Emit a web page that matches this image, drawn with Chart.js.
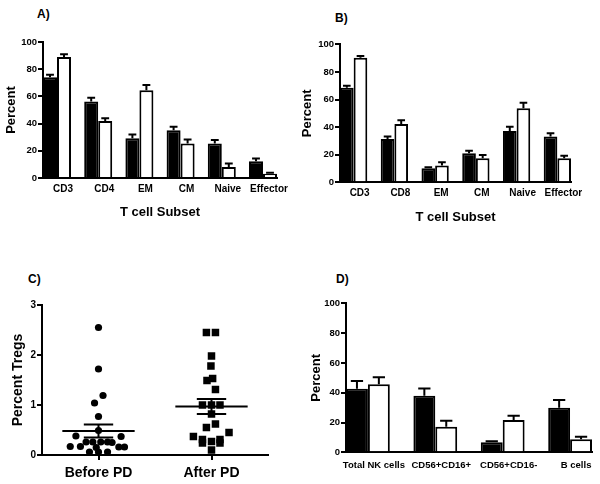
<!DOCTYPE html>
<html><head><meta charset="utf-8">
<script src="https://cdn.jsdelivr.net/npm/chart.js@4"></script>
<style>
html,body{margin:0;padding:0;background:#fff;}
body{width:600px;height:484px;position:relative;overflow:hidden;font-family:'Liberation Sans',Arial,sans-serif;}
canvas{position:absolute;}
.lbl{position:absolute;font-weight:bold;font-size:12px;line-height:12px;color:#000;}
</style></head>
<body>
<div class="lbl" style="left:37px;top:8px">A)</div>
<div class="lbl" style="left:335px;top:11.5px">B)</div>
<div class="lbl" style="left:28px;top:273px">C)</div>
<div class="lbl" style="left:336px;top:272.5px">D)</div>
<canvas id="cA" width="300" height="230" style="left:0;top:0"></canvas>
<canvas id="cB" width="305" height="240" style="left:295px;top:0"></canvas>
<canvas id="cC" width="300" height="234" style="left:0;top:250px"></canvas>
<canvas id="cD" width="300" height="234" style="left:300px;top:250px"></canvas>
<script>
// ---- Panel A ----
const catsA = ['CD3','CD4','EM','CM','Naive','Effector'];
const beforeA = [74, 56.3, 29.2, 35.1, 25.3, 12.3];
const beforeSemA = [2, 2.7, 2.8, 2.5, 2.7, 2];
const afterA = [89, 42, 64.6, 25.3, 8.1, 3.2];
const afterSemA = [2, 2, 3.7, 3, 2.5, 0.6];
// ---- Panel B ----
const catsB = ['CD3','CD8','EM','CM','Naive','Effector'];
const beforeB = [68.6, 31.4, 10.1, 21, 37.2, 33.1];
const beforeSemB = [1.4, 1.7, 0.8, 1.9, 3.1, 2.4];
const afterB = [90.3, 42.2, 12.1, 17.4, 53.6, 17.4];
const afterSemB = [1.2, 2.7, 2.4, 2.4, 4.1, 1.9];
// ---- Panel C ----
const catsC = ['Before PD','After PD'];
const tregBefore = [2.55,1.72,1.19,1.04,0.77,0.49,0.38,0.37,0.26,0.26,0.26,0.26,0.25,0.17,0.17,0.16,0.16,0.15,0.06,0.06,0.06];
const tregBeforeSpread = [0,0,0.04,-0.035,0,0,-0.2,0.2,-0.11,-0.05,0.02,0.08,0.12,-0.25,-0.16,0.18,0.23,-0.02,-0.08,0,0.08];
const tregAfter = [2.45,2.45,1.98,1.78,1.53,1.49,1.31,1.0,1.0,1.0,0.82,0.62,0.55,0.45,0.37,0.31,0.24,0.31,0.24,0.27,0.1];
const tregAfterSpread = [-0.045,0.035,0,-0.005,0.01,-0.04,0.035,-0.08,0,0.075,0,0.035,-0.045,0.155,-0.16,0.075,0.075,-0.08,-0.08,0,0];
const tregMean = [0.48, 0.97];
const tregSem = [0.13, 0.15];
// ---- Panel D ----
const catsD = ['Total NK cells','CD56+CD16+','CD56+CD16-','B cells'];
const beforeD = [42.7, 38, 6.7, 29.9];
const beforeSemD = [5.2, 4.9, 0.7, 5.2];
const afterD = [45.6, 17.2, 21.7, 8.7];
const afterSemD = [4.7, 4, 2.9, 1.8];

Chart.defaults.font.family = "'Liberation Sans', Arial, sans-serif";
Chart.defaults.color = '#000';

const errorBars = {
  id: 'errorBars',
  afterDatasetsDraw(chart) {
    const ctx = chart.ctx, y = chart.scales.y;
    chart.data.datasets.forEach((ds, di) => {
      if (!ds.sem) return;
      const meta = chart.getDatasetMeta(di);
      meta.data.forEach((bar, i) => {
        const v = ds.data[i].y;
        const top = y.getPixelForValue(v + ds.sem[i]);
        const half = bar.width * 0.28;
        ctx.save();
        ctx.strokeStyle = '#000'; ctx.lineWidth = 2;
        ctx.beginPath();
        ctx.moveTo(bar.x, bar.y); ctx.lineTo(bar.x, top);
        ctx.moveTo(bar.x - half, top); ctx.lineTo(bar.x + half, top);
        ctx.stroke();
        ctx.restore();
      });
    });
  }
};

const meanSem = {
  id: 'meanSem',
  afterDatasetsDraw(chart) {
    const ctx = chart.ctx, x = chart.scales.x, y = chart.scales.y;
    ctx.save(); ctx.strokeStyle = '#000'; ctx.lineWidth = 2;
    tregMean.forEach((m, i) => {
      const s = tregSem[i];
      const ym = y.getPixelForValue(m), yt = y.getPixelForValue(m + s), yb = y.getPixelForValue(m - s);
      const xc = x.getPixelForValue(i);
      const hw = x.getPixelForValue(i + 0.32) - xc;
      const cw = x.getPixelForValue(i + 0.13) - xc;
      ctx.beginPath();
      ctx.moveTo(xc - hw, ym); ctx.lineTo(xc + hw, ym);
      ctx.moveTo(xc, yt); ctx.lineTo(xc, yb);
      ctx.moveTo(xc - cw, yt); ctx.lineTo(xc + cw, yt);
      ctx.moveTo(xc - cw, yb); ctx.lineTo(xc + cw, yb);
      ctx.stroke();
    });
    ctx.restore();
  }
};

function yAxis(g, max, step, title, tsize) {
  return {
    min: 0, max: max,
    ticks: { stepSize: step, padding: 1, font: { size: g.yfs, weight: 'bold' }, color: '#000' },
    grid: { drawOnChartArea: false, drawTicks: true, tickLength: 5, color: '#000', lineWidth: 2 },
    border: { display: true, color: '#000', width: 2 },
    title: { display: true, text: title, font: { size: tsize, weight: 'bold' }, color: '#000', padding: { top: g.ytp, bottom: 0 } },
    afterFit: s => { s.width = g.yw; }
  };
}

function barChart(id, cats, bv, bs, wv, ws, g) {
  const span = g.frac / 2;
  return new Chart(document.getElementById(id), {
    type: 'bar',
    data: { datasets: [
      { data: bv.map((v, i) => ({ x: i, y: v })), sem: bs, backgroundColor: '#000', borderColor: '#000', borderWidth: 2, categoryPercentage: g.frac, barPercentage: 1 },
      { data: wv.map((v, i) => ({ x: i, y: v })), sem: ws, backgroundColor: '#fff', borderColor: '#000', borderWidth: 2, categoryPercentage: g.frac, barPercentage: 1 }
    ] },
    options: {
      responsive: false, animation: false,
      layout: { padding: g.pad },
      plugins: { legend: { display: false }, tooltip: { enabled: false } },
      scales: {
        x: {
          type: 'linear', min: -span, max: cats.length - 1 + span, offset: false,
          grid: { display: false, drawTicks: false },
          border: { display: true, color: '#000', width: 2 },
          ticks: { stepSize: 1, includeBounds: false, autoSkip: false, maxRotation: 0, minRotation: 0, padding: g.xtp, labelOffset: g.lo,
                   font: { size: g.xfs, weight: 'bold' }, color: '#000', callback: v => (cats[v] !== undefined ? cats[v] : '') },
          title: { display: !!g.xt, text: g.xt || '', font: { size: 13, weight: 'bold' }, color: '#000', padding: 0 },
          afterBuildTicks: s => { s.ticks = cats.map((_, i) => ({ value: i })); },
          afterFit: s => { s.height = g.xh; }
        },
        y: yAxis(g, 100, 20, 'Percent', 13)
      }
    },
    plugins: [errorBars]
  });
}

barChart('cA', catsA, beforeA, beforeSemA, afterA, afterSemA,
  { frac: 0.68, pad: { left: 0, top: 42, right: 23, bottom: 10 }, yw: 43, xh: 42, xtp: 5, lo: 6, xfs: 10, yfs: 9.5, ytp: 3.2, xt: 'T cell Subset' });
barChart('cB', catsB, beforeB, beforeSemB, afterB, afterSemB,
  { frac: 0.67, pad: { left: 0, top: 44.3, right: 29, bottom: 15.2 }, yw: 45, xh: 42.5, xtp: 4.7, lo: 6, xfs: 10, yfs: 9.5, ytp: 4.2, xt: 'T cell Subset' });
barChart('cD', catsD, beforeD, beforeSemD, afterD, afterSemD,
  { frac: 0.65, pad: { left: 0, top: 53.3, right: 8, bottom: 0 }, yw: 46, xh: 31.7, xtp: 7, lo: 6, xfs: 9.5, yfs: 9.5, ytp: 8.2, xt: '' });

new Chart(document.getElementById('cC'), {
  type: 'scatter',
  data: { datasets: [
    { data: tregBefore.map((v, i) => ({ x: 0 + tregBeforeSpread[i], y: v })), pointStyle: 'circle', pointRadius: 3.6, backgroundColor: '#000', borderColor: '#000', borderWidth: 0 },
    { data: tregAfter.map((v, i) => ({ x: 1 + tregAfterSpread[i], y: v })), pointStyle: 'rect', pointRadius: 5.3, backgroundColor: '#000', borderColor: '#000', borderWidth: 0 }
  ] },
  options: {
    responsive: false, animation: false,
    layout: { padding: { left: 0, top: 55, right: 32, bottom: 0 } },
    plugins: { legend: { display: false }, tooltip: { enabled: false } },
    scales: {
      x: {
        type: 'linear', min: -0.5, max: 1.5, offset: false,
        grid: { drawOnChartArea: false, drawTicks: true, tickLength: 5, color: '#000', lineWidth: 2 },
        border: { display: true, color: '#000', width: 2 },
        ticks: { autoSkip: false, maxRotation: 0, padding: 4.6,
                 font: { size: 14, weight: 'bold' }, color: '#000', callback: v => (catsC[v] !== undefined ? catsC[v] : '') },
        afterBuildTicks: s => { s.ticks = catsC.map((_, i) => ({ value: i })); },
        afterFit: s => { s.height = 29; }
      },
      y: yAxis({ yw: 42, yfs: 10, ytp: 9.6 }, 3, 1, 'Percent Tregs', 14)
    }
  },
  plugins: [meanSem]
});
</script>
</body></html>
